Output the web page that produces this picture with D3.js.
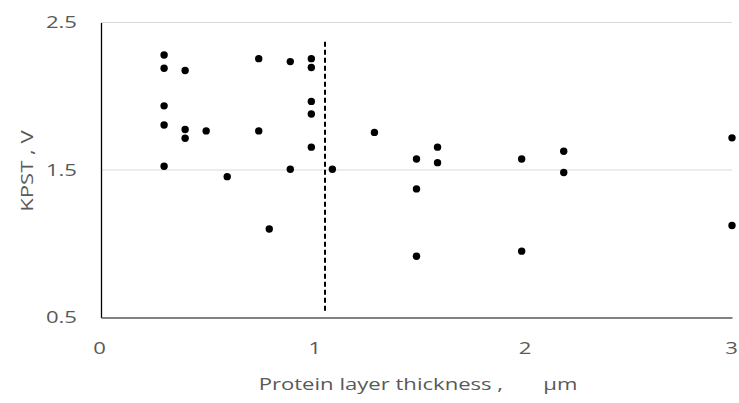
<!DOCTYPE html>
<html>
<head>
<meta charset="utf-8">
<script src="https://cdn.jsdelivr.net/npm/d3@7"></script>
<style>
  body { margin: 0; background: #fff; }
  text { font-family: "Open Sans", sans-serif; fill: #595959; }
</style>
</head>
<body>
<svg id="chart" width="739" height="403"></svg>
<script>
// thickness (um) and KPST (V)
var thickness = [0.3, 0.3, 0.4, 0.75, 0.9, 1.0, 1.0, 0.3, 1.0, 1.0, 0.3, 0.4, 0.4, 0.5, 0.75, 1.0, 0.3, 0.6, 0.9, 1.1,
                 1.3, 1.5, 1.5, 1.5, 1.6, 1.6, 2.0, 2.0, 2.2, 2.2, 3.0, 3.0, 0.8];
var kpst = [2.28, 2.19, 2.175, 2.255, 2.235, 2.255, 2.195, 1.935, 1.965, 1.88, 1.805, 1.775, 1.715, 1.765, 1.765, 1.655, 1.525, 1.455, 1.505, 1.505,
            1.755, 1.575, 1.372, 0.915, 1.655, 1.55, 1.575, 0.95, 1.627, 1.483, 1.718, 1.124, 1.10];
var xTicks = [0, 1, 2, 3];
var yTicks = [0.5, 1.5, 2.5];
var threshold = 1.065;
var thresholdSpan = [0.53, 2.37];

// text in the original is wider than Open Sans
var stretch = 1.3;

function drawChart() {
    var svg = d3.select("svg#chart");
    var data = thickness.map((t, i) => ({x: t, y: kpst[i]}));

    var x = d3.scaleLinear().domain([0, 3]).range([101, 732]);
    var y = d3.scaleLinear().domain([0.5, 2.5]).range([317.5, 22.5]);

    // gridlines
    svg.append("g")
        .selectAll("line")
        .data(yTicks.filter(d => d > 0.5))
        .enter()
        .append("line")
        .attr("x1", x(0))
        .attr("x2", x(3))
        .attr("y1", d => y(d))
        .attr("y2", d => y(d))
        .attr("stroke", "#d9d9d9")
        .attr("stroke-width", 1);

    var yAxis = svg.append("g")
        .attr("transform", "translate(" + x(0) + ",0)")
        .call(d3.axisLeft(y).tickValues(yTicks).tickFormat(d3.format(".1f")).tickSize(0).tickPadding(24));
    yAxis.select(".domain").attr("stroke", "#000").attr("stroke-width", 1.3);
    yAxis.selectAll("text").attr("font-size", 17).attr("fill", "#595959")
        .attr("font-family", "'Open Sans', sans-serif")
        .attr("x", -24 / stretch)
        .attr("transform", "scale(" + stretch + ",1)");

    var xAxis = svg.append("g")
        .attr("transform", "translate(0," + y(0.5) + ")")
        .call(d3.axisBottom(x).tickValues(xTicks).tickFormat(d3.format("d")).tickSize(0).tickPadding(24));
    xAxis.select(".domain").attr("stroke", "#595959").attr("stroke-width", 1.3);
    xAxis.selectAll("text").attr("font-size", 17).attr("fill", "#595959")
        .attr("font-family", "'Open Sans', sans-serif")
        .attr("x", d => (d == 0 ? -2 : d == 3 ? -1 : 3) / stretch)
        .attr("transform", "scale(" + stretch + ",1)");

    // dashed threshold line
    svg.append("line")
        .attr("x1", x(threshold))
        .attr("x2", x(threshold))
        .attr("y1", y(thresholdSpan[1]))
        .attr("y2", y(thresholdSpan[0]))
        .attr("stroke", "#000")
        .attr("stroke-width", 2)
        .attr("stroke-dasharray", "5,3");

    svg.selectAll("circle")
        .data(data)
        .enter()
        .append("circle")
        .attr("r", 3.7)
        .attr("cx", d => x(d.x))
        .attr("cy", d => y(d.y))
        .attr("fill", "#000");

    svg.append("text")
        .attr("transform", "translate(418,390) scale(" + stretch + ",1)")
        .attr("text-anchor", "middle")
        .attr("font-size", 17)
        .style("white-space", "pre")
        .text("Protein layer thickness ,       \u00b5m");

    svg.append("text")
        .attr("transform", "translate(33,171) rotate(-90) scale(" + stretch + ",1)")
        .attr("text-anchor", "middle")
        .attr("font-size", 17)
        .style("white-space", "pre")
        .text("KPST , V");
}

drawChart();
</script>
</body>
</html>
